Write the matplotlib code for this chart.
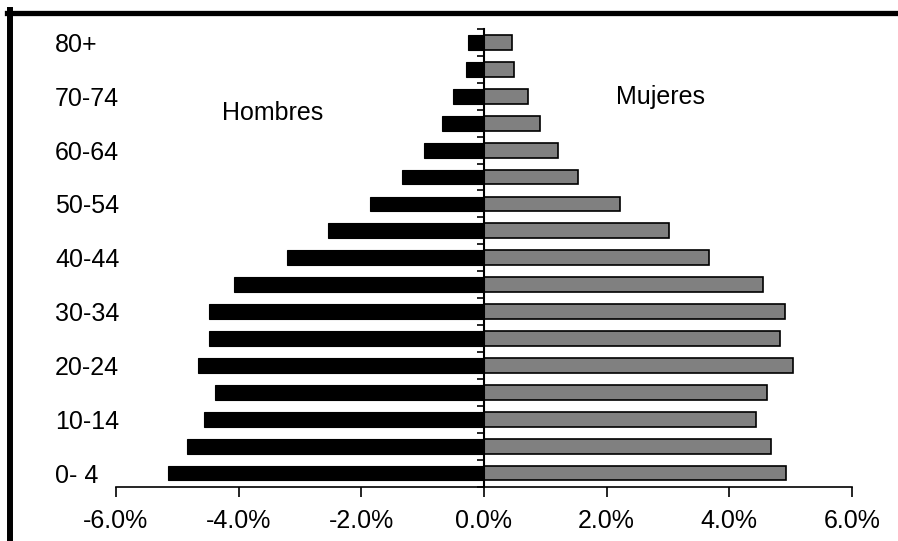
import matplotlib
matplotlib.use("Agg")
import matplotlib.pyplot as plt
from matplotlib.lines import Line2D
import numpy as np

plt.rcParams['font.family'] = ['Liberation Sans', 'DejaVu Sans']

age_groups = ["0- 4", "5-9", "10-14", "15-19", "20-24", "25-29", "30-34", "35-39",
              "40-44", "45-49", "50-54", "55-59", "60-64", "65-69", "70-74", "75-79", "80+"]
hombres = [5.15, 4.84, 4.57, 4.39, 4.66, 4.48, 4.48, 4.08,
           3.21, 2.54, 1.86, 1.34, 0.98, 0.68, 0.51, 0.29, 0.26]
mujeres = [4.92, 4.68, 4.43, 4.61, 5.04, 4.83, 4.90, 4.55,
           3.67, 3.02, 2.22, 1.54, 1.20, 0.92, 0.71, 0.49, 0.46]
x_ticks = [-6, -4, -2, 0, 2, 4, 6]

W, H = 898, 541
fig = plt.figure(figsize=(W / 100, H / 100), dpi=100)
ax = fig.add_axes([116 / W, (H - 486.5) / H, (852 - 116) / W, (486.5 - 29) / H])

y = np.arange(len(age_groups))
ax.barh(y, [-v for v in hombres], height=0.55, color="black", edgecolor="black", linewidth=0.8)
ax.barh(y, mujeres, height=0.55, color="#808080", edgecolor="black", linewidth=1.2)

ax.set_xlim(-6, 6)
ax.set_ylim(-0.5, len(age_groups) - 0.5)

for s in ["top", "right"]:
    ax.spines[s].set_visible(False)
ax.spines["left"].set_position(("data", 0))
ax.spines["left"].set_linewidth(1.5)
ax.spines["bottom"].set_linewidth(1.2)

ax.set_xticks(x_ticks)
ax.set_xticklabels([f"{v:.1f}%" for v in x_ticks])
ax.tick_params(axis="x", direction="out", length=7.5, width=1.2, pad=9, labelsize=18)

ax.set_yticks(y[::2])
ax.set_yticklabels(age_groups[::2])
ax.set_yticks(np.arange(-0.5, len(age_groups), 1.0), minor=True)
ax.tick_params(axis="y", which="major", length=0, pad=(484 - 55) * 0.72, labelsize=18)
for lbl in ax.get_yticklabels():
    lbl.set_horizontalalignment("left")
ax.tick_params(axis="y", which="minor", direction="out", length=5, width=1.2)

ax.text(-3.45, 13.12, "Hombres", ha="center", va="baseline", fontsize=18)
ax.text(2.88, 13.73, "Mujeres", ha="center", va="baseline", fontsize=18)

# frame lines of the figure (top and left)
fig.add_artist(Line2D([7 / W, 1], [1 - 12.5 / H, 1 - 12.5 / H], color="black", lw=3.8,
                      transform=fig.transFigure))
fig.add_artist(Line2D([10 / W, 10 / W], [0, 1 - 10 / H], color="black", lw=4.3,
                      transform=fig.transFigure))

fig.savefig("out.png", dpi=100)
